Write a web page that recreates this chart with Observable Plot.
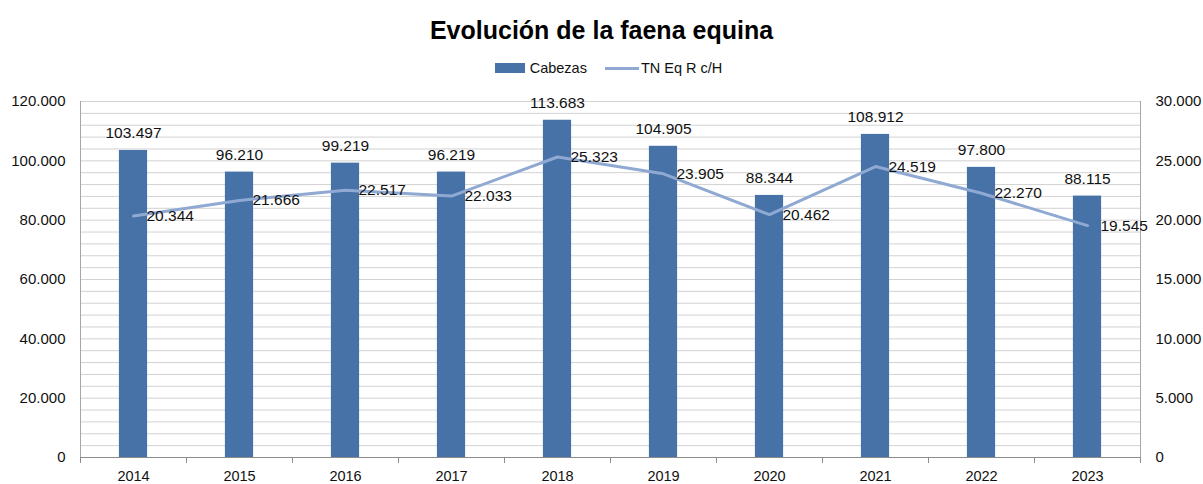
<!DOCTYPE html>
<html>
<head>
<meta charset="utf-8">
<script src="https://cdn.jsdelivr.net/npm/d3@7"></script>
<script src="https://cdn.jsdelivr.net/npm/@observablehq/plot@0.6"></script>
<style>
  html, body { margin: 0; padding: 0; background: #fff; }
  body { width: 1203px; height: 484px; overflow: hidden; font-family: "Liberation Sans", Arial, sans-serif; color: #111; }
  #title { height: 52px; padding-top: 4px; line-height: 52px; text-align: center; font-weight: bold; font-size: 25px; color: #000; }
  #legend { height: 29px; display: flex; justify-content: center; align-items: flex-start; font-size: 14.5px; padding-left: 14px; box-sizing: border-box; }
  #legend .item { display: flex; align-items: center; height: 24px; margin: 0 9px; }
  #legend .sw-bar { width: 30px; height: 10px; background: #4672a8; margin-right: 5px; }
  #legend .sw-line { width: 34px; height: 3px; background: #8fa9d2; margin-right: 2px; }
</style>
</head>
<body>
<div id="title">Evolución de la faena equina</div>
<div id="legend">
  <div class="item"><div class="sw-bar"></div><span>Cabezas</span></div>
  <div class="item"><div class="sw-line"></div><span>TN Eq R c/H</span></div>
</div>
<div id="chart"></div>
<script>
const years = [2014, 2015, 2016, 2017, 2018, 2019, 2020, 2021, 2022, 2023];
const cabezas = [103497, 96210, 99219, 96219, 113683, 104905, 88344, 108912, 97800, 88115];
const tnEq = [20344, 21666, 22517, 22033, 25323, 23905, 20462, 24519, 22270, 19545];
const leftTicks = [0, 20000, 40000, 60000, 80000, 100000, 120000];
const rightTicks = [0, 5000, 10000, 15000, 20000, 25000, 30000];

const ratio = 120000 / 30000; // right axis maps onto left axis
const fmt = d3.formatLocale({decimal: ",", thousands: ".", grouping: [3], currency: ["", ""]}).format(",");

const data = years.map((y, i) => ({year: y, cab: cabezas[i], tn: tnEq[i]}));
const boundaries = d3.range(years[0] - 0.5, years[years.length - 1] + 1, 1);
const halfW = 0.133;
const barColor = "#4672a8";
const lineColor = "#8fa9d2";

const chart = Plot.plot({
  width: 1203,
  height: 399,
  marginLeft: 80,
  marginRight: 63,
  marginTop: 16,
  marginBottom: 27,
  style: {fontFamily: "'Liberation Sans', Arial, sans-serif", fontSize: "15px", color: "#111", background: "#fff"},
  x: {domain: [years[0] - 0.5, years[years.length - 1] + 0.5]},
  y: {domain: [0, 120000]},
  marks: [
    Plot.gridY(d3.range(0, 120001, 4000), {stroke: "#d2d2d2", strokeOpacity: 1}),
    Plot.ruleX([boundaries[0], boundaries[boundaries.length - 1]], {stroke: "#a6a6a6"}),
    Plot.rectY(data, {x1: d => d.year - halfW, x2: d => d.year + halfW, y: "cab", fill: barColor}),
    Plot.ruleY([0], {stroke: "#8c8c8c"}),
    Plot.line(data, {x: "year", y: d => d.tn * ratio, stroke: lineColor, strokeWidth: 3}),
    Plot.text(data, {x: "year", y: "cab", text: d => fmt(d.cab), dy: -17, fontSize: 15.5, fill: "#111"}),
    Plot.text(data, {x: "year", y: d => d.tn * ratio, text: d => fmt(d.tn), textAnchor: "start", dx: 13, fontSize: 15.5, fill: "#111"}),
    Plot.axisY({ticks: leftTicks, tickSize: 0, tickPadding: 15, tickFormat: fmt, label: null, fontSize: 15}),
    Plot.axisY({anchor: "right", ticks: rightTicks.map(v => v * ratio), tickSize: 0, tickPadding: 15, tickFormat: d => fmt(d / ratio), label: null, fontSize: 15}),
    Plot.axisX({ticks: years, tickSize: 0, tickPadding: 13, tickFormat: d => String(d), label: null, fontSize: 14.5}),
    Plot.axisX({ticks: boundaries, tickSize: 6, tickFormat: () => "", label: null, stroke: "#8c8c8c"})
  ]
});
document.getElementById("chart").appendChild(chart);
</script>
</body>
</html>
